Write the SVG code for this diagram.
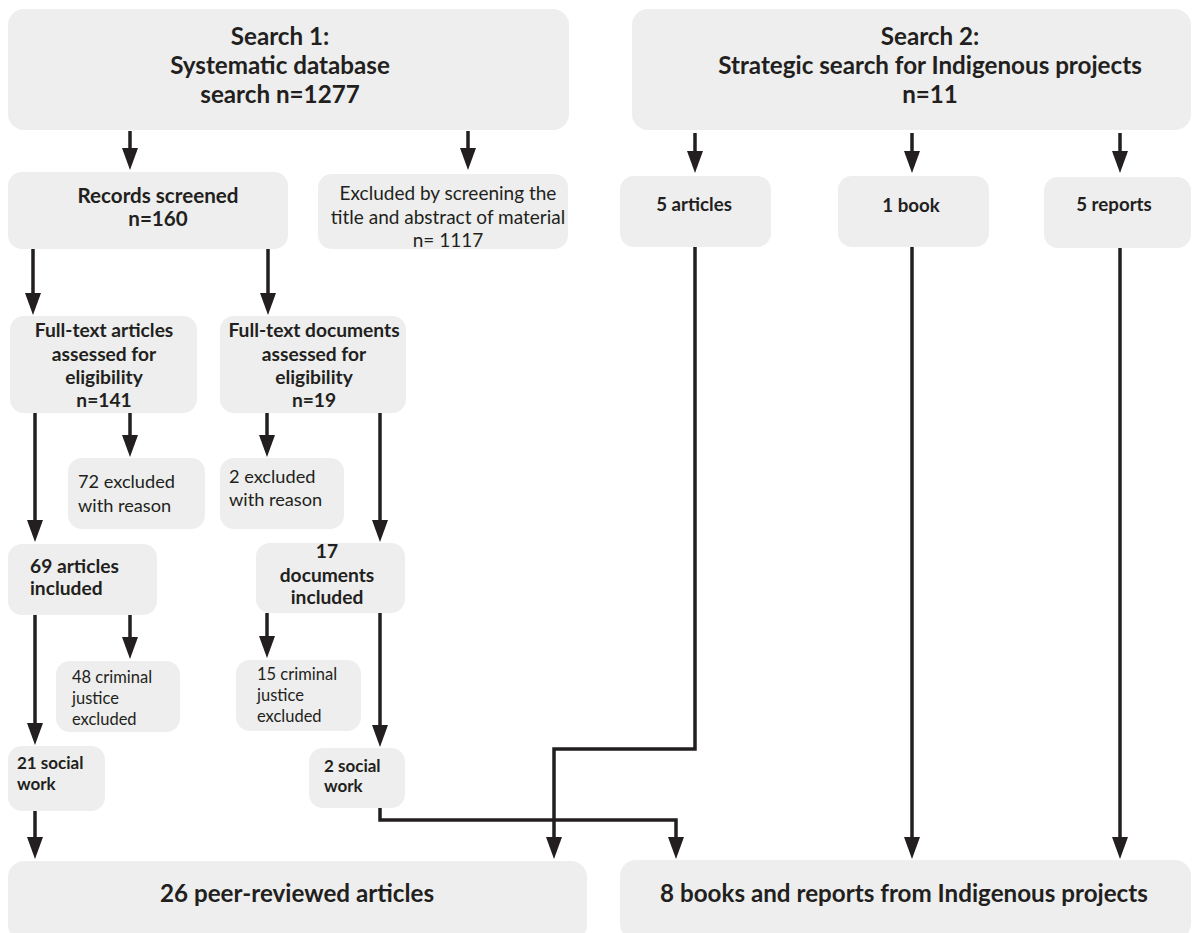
<svg xmlns="http://www.w3.org/2000/svg" width="1192" height="933" viewBox="0 0 1192 933">
<style>
.box{fill:#edeeed;}
.t{font-family:Lato,"Liberation Sans",sans-serif;fill:#231f20;}
.h{font-size:24.2px;font-weight:bold;text-anchor:middle;}
.b{font-size:19.2px;font-weight:bold;}
.s{font-size:17px;font-weight:bold;}
.r{font-size:18.2px;font-weight:normal;}
.rs{font-size:16.5px;font-weight:normal;}
.c{text-anchor:middle;}
.ln{fill:none;stroke:#231f20;stroke-width:3.5;}
</style>
<defs>
<marker id="ah" viewBox="0 0 22 16" refX="1" refY="8" markerWidth="22" markerHeight="16" markerUnits="userSpaceOnUse" orient="auto">
<path d="M0,0 L22,8 L0,16 Z" fill="#231f20"/>
</marker>
</defs>
<rect width="1192" height="933" fill="#ffffff"/>

<g id="search1"><rect class="box" x="8" y="9" width="561" height="121" rx="16"/>
<text class="t h" x="288"><tspan x="280" y="45">Search 1:</tspan><tspan x="280" y="74">Systematic database</tspan><tspan x="280" y="103">search n=1277</tspan></text></g>

<g id="search2"><rect class="box" x="632" y="9" width="559" height="121" rx="16"/>
<text class="t h" x="930"><tspan x="930" y="45">Search 2:</tspan><tspan x="930" y="74">Strategic search for Indigenous projects</tspan><tspan x="930" y="103">n=11</tspan></text></g>

<g id="records"><rect class="box" x="8" y="172" width="280" height="77" rx="14"/>
<text class="t c" style="font-size:20.6px;font-weight:bold" x="158"><tspan x="158" y="203">Records screened</tspan><tspan x="158" y="226">n=160</tspan></text></g>

<g id="excluded1"><rect class="box" x="318" y="174" width="250" height="75" rx="14"/>
<text class="t c" style="font-size:19px" x="448"><tspan x="448" y="200">Excluded by screening the</tspan><tspan x="448" y="224">title and abstract of material</tspan><tspan x="448" y="247">n= 1117</tspan></text></g>

<g id="s2articles"><rect class="box" x="620" y="176" width="151" height="71" rx="14"/>
<text class="t c" style="font-size:18.7px;font-weight:bold" x="694" y="211">5 articles</text></g>
<g id="s2book"><rect class="box" x="838" y="176" width="151" height="71" rx="14"/>
<text class="t c" style="font-size:18.7px;font-weight:bold" x="911" y="212">1 book</text></g>
<g id="s2reports"><rect class="box" x="1044" y="177" width="147" height="71" rx="14"/>
<text class="t c" style="font-size:18.7px;font-weight:bold" x="1114" y="211">5 reports</text></g>

<g id="fulltextArticles"><rect class="box" x="10" y="316" width="187" height="97" rx="14"/>
<text class="t b c" x="104"><tspan x="104" y="337">Full-text articles</tspan><tspan x="104" y="361">assessed for</tspan><tspan x="104" y="384">eligibility</tspan><tspan x="104" y="407">n=141</tspan></text></g>

<g id="fulltextDocs"><rect class="box" x="220" y="316" width="186" height="97" rx="14"/>
<text class="t b c" x="314"><tspan x="314" y="337">Full-text documents</tspan><tspan x="314" y="361">assessed for</tspan><tspan x="314" y="384">eligibility</tspan><tspan x="314" y="407">n=19</tspan></text></g>

<g id="excl72"><rect class="box" x="68" y="458" width="137" height="71" rx="14"/>
<text class="t r" x="78"><tspan x="78" y="488">72 excluded</tspan><tspan x="78" y="512">with reason</tspan></text></g>

<g id="excl2"><rect class="box" x="220" y="458" width="124" height="71" rx="14"/>
<text class="t r" x="229"><tspan x="229" y="483">2 excluded</tspan><tspan x="229" y="506">with reason</tspan></text></g>

<g id="inc69"><rect class="box" x="8" y="544" width="149" height="71" rx="14"/>
<text class="t b" x="30"><tspan x="30" y="573">69 articles</tspan><tspan x="30" y="595">included</tspan></text></g>

<g id="inc17"><rect class="box" x="256" y="543" width="149" height="70" rx="14"/>
<text class="t b c" x="327"><tspan x="327" y="558">17</tspan><tspan x="327" y="582">documents</tspan><tspan x="327" y="604">included</tspan></text></g>

<g id="cj48"><rect class="box" x="56" y="661" width="124" height="71" rx="14"/>
<text class="t rs" x="72"><tspan x="72" y="683">48 criminal</tspan><tspan x="72" y="704">justice</tspan><tspan x="72" y="725">excluded</tspan></text></g>

<g id="cj15"><rect class="box" x="236" y="660" width="125" height="71" rx="14"/>
<text class="t rs" x="257"><tspan x="257" y="680">15 criminal</tspan><tspan x="257" y="701">justice</tspan><tspan x="257" y="722">excluded</tspan></text></g>

<g id="sw21"><rect class="box" x="8" y="746" width="97" height="65" rx="14"/>
<text class="t s" x="17"><tspan x="17" y="769">21 social</tspan><tspan x="17" y="790">work</tspan></text></g>

<g id="sw2"><rect class="box" x="309" y="748" width="96" height="60" rx="14"/>
<text class="t s" x="324"><tspan x="324" y="772">2 social</tspan><tspan x="324" y="792">work</tspan></text></g>

<g id="peer"><rect class="box" x="8" y="861" width="579" height="80" rx="16"/>
<text class="t h" x="297" y="902">26 peer-reviewed articles</text></g>

<g id="books"><rect class="box" x="620" y="860" width="571" height="80" rx="16"/>
<text class="t h" x="904" y="902">8 books and reports from Indigenous projects</text></g>

<g id="connectors">
<path class="ln" d="M130,131 V149" marker-end="url(#ah)"/>
<path class="ln" d="M468,131 V149" marker-end="url(#ah)"/>
<path class="ln" d="M695,133 V152" marker-end="url(#ah)"/>
<path class="ln" d="M912,133 V152" marker-end="url(#ah)"/>
<path class="ln" d="M1120,133 V152" marker-end="url(#ah)"/>
<path class="ln" d="M33,249 V294" marker-end="url(#ah)"/>
<path class="ln" d="M268,249 V294" marker-end="url(#ah)"/>
<path class="ln" d="M130,413 V436" marker-end="url(#ah)"/>
<path class="ln" d="M35,413 V521" marker-end="url(#ah)"/>
<path class="ln" d="M267,413 V436" marker-end="url(#ah)"/>
<path class="ln" d="M380,413 V521" marker-end="url(#ah)"/>
<path class="ln" d="M130,615 V638" marker-end="url(#ah)"/>
<path class="ln" d="M35,615 V724" marker-end="url(#ah)"/>
<path class="ln" d="M267,613 V637" marker-end="url(#ah)"/>
<path class="ln" d="M380,613 V726" marker-end="url(#ah)"/>
<path class="ln" d="M35,811 V838" marker-end="url(#ah)"/>
<path class="ln" d="M695,247 V749 H554 V838" marker-end="url(#ah)"/>
<path class="ln" d="M380,808 V820 H676 V838" marker-end="url(#ah)"/>
<path class="ln" d="M912,247 V838" marker-end="url(#ah)"/>
<path class="ln" d="M1120,248 V838" marker-end="url(#ah)"/>
</g>
</svg>
